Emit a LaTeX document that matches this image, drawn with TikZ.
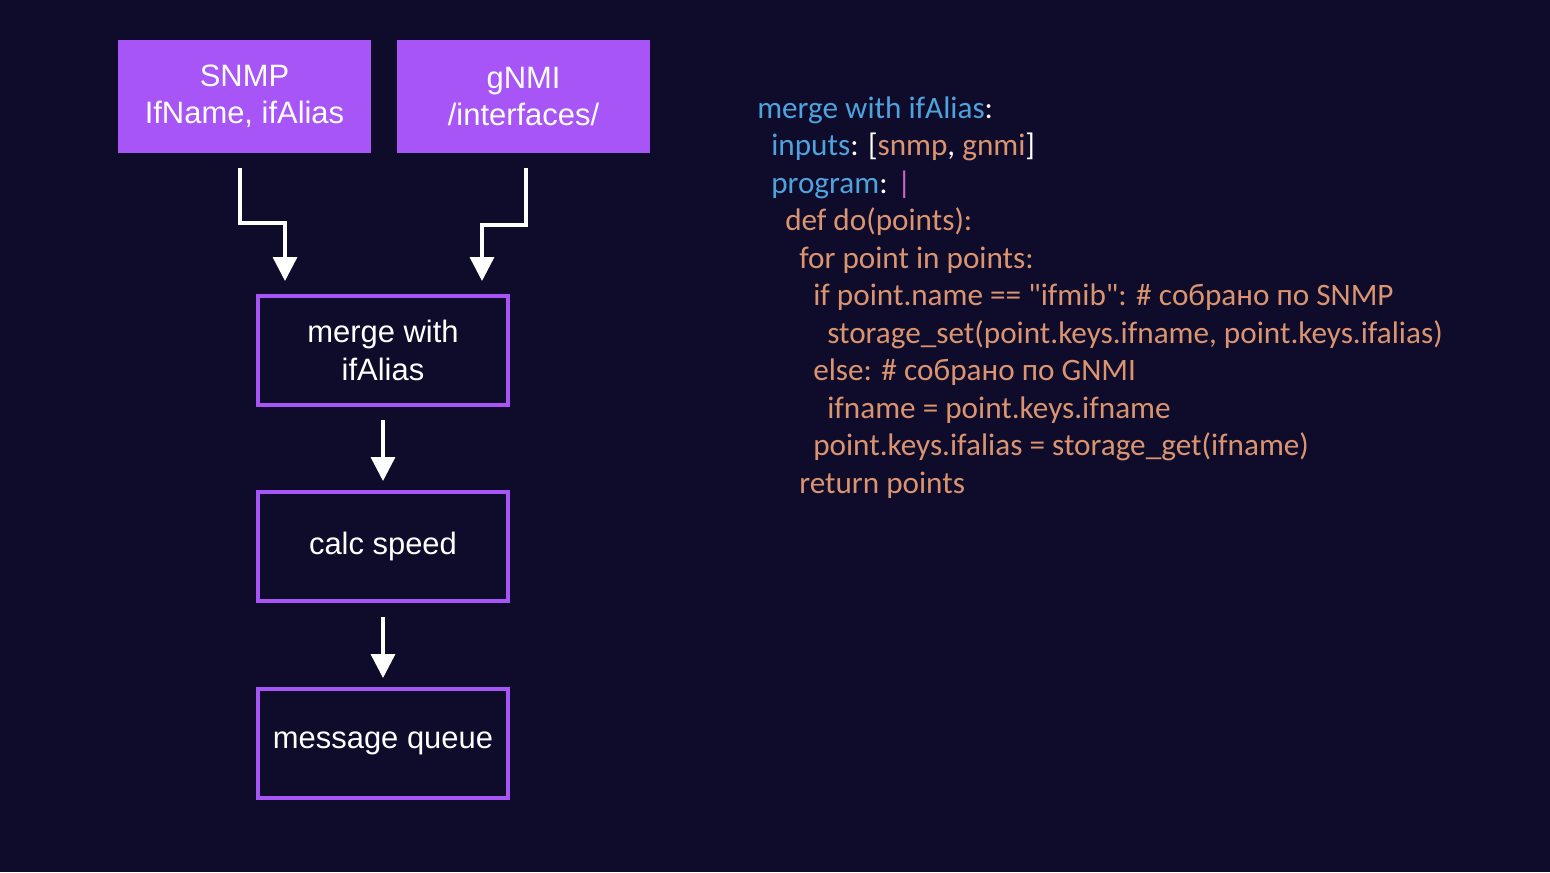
\documentclass[tikz,border=0pt]{standalone}
\usepackage{fontspec}
\setmainfont{Liberation Sans}
\newfontfamily\codefont{Carlito}
\usetikzlibrary{arrows.meta}
\definecolor{bg}{HTML}{0F0B2A}
\definecolor{purp}{HTML}{A855F7}
\definecolor{keyc}{HTML}{4EA3DC}
\definecolor{valc}{HTML}{DA9470}
\definecolor{pipec}{HTML}{C964C8}
\begin{document}
\begin{tikzpicture}[x=0.75pt,y=-0.75pt,
  src/.style={fill=purp,draw=none,minimum width=189.75pt,minimum height=84.75pt,text=white,font=\fontsize{23.2}{28}\selectfont,align=center,inner sep=0},
  stage/.style={draw=purp,line width=3pt,minimum width=187pt,minimum height=82pt,text=white,font=\fontsize{23.2}{28}\selectfont,align=center,inner sep=0},
  arr/.style={draw=white,line width=2.6pt,-{Triangle[width=18pt,length=18pt]}},
  code/.style={anchor=base west,inner sep=0,font=\codefont\fontsize{23.4}{28}\selectfont,text=valc}]
\fill[bg] (0,0) rectangle (1550,872);
\node[src] (snmp) at (244.5,96.5) {SNMP\\IfName, ifAlias};
\node[src] (gnmi) at (523.5,96.5) {gNMI\\/interfaces/};
\node[stage] (merge) at (383,350.5) {merge with\\ifAlias};
\node[stage] (calc) at (383,546.5) {calc speed};
\node[stage] (mq) at (383,743.5) {message queue};
\coordinate (a1) at (240,168);
\coordinate (a2) at (526,168);
\coordinate (b1) at (383,420);
\coordinate (b2) at (383,617);
\draw[arr] (a1) -- (240,223) -- (285,223) -- (285,281);
\draw[arr] (a2) -- (526,225) -- (482,225) -- (482,281);
\draw[arr] (b1) -- (calc.north |- 0,481);
\draw[arr] (b2) -- (mq.north |- 0,678);
\node[code] (l1) at (757,118) {\textcolor{keyc}{merge with ifAlias}\textcolor{white}{:}};
\node[code] (l2) at (771,155.5) {\textcolor{keyc}{inputs}\textcolor{white}{: [}snmp\textcolor{white}{, }gnmi\textcolor{white}{]}};
\node[code] (l3) at (771,193) {\textcolor{keyc}{program}\textcolor{white}{: }\textcolor{pipec}{|}};
\node[code] (l4) at (785,230.5) {def do(points):};
\node[code] (l5) at (799,268) {for point in points:};
\node[code] (l6) at (813,305.5) {if point.name == "ifmib": \# собрано по SNMP};
\node[code] (l7) at (827,343) {storage\_set(point.keys.ifname, point.keys.ifalias)};
\node[code] (l8) at (813,380.5) {else: \# собрано по GNMI};
\node[code] (l9) at (827,418) {ifname = point.keys.ifname};
\node[code] (l10) at (813,455.5) {point.keys.ifalias = storage\_get(ifname)};
\node[code] (l11) at (799,493) {return points};
\end{tikzpicture}
\end{document}
